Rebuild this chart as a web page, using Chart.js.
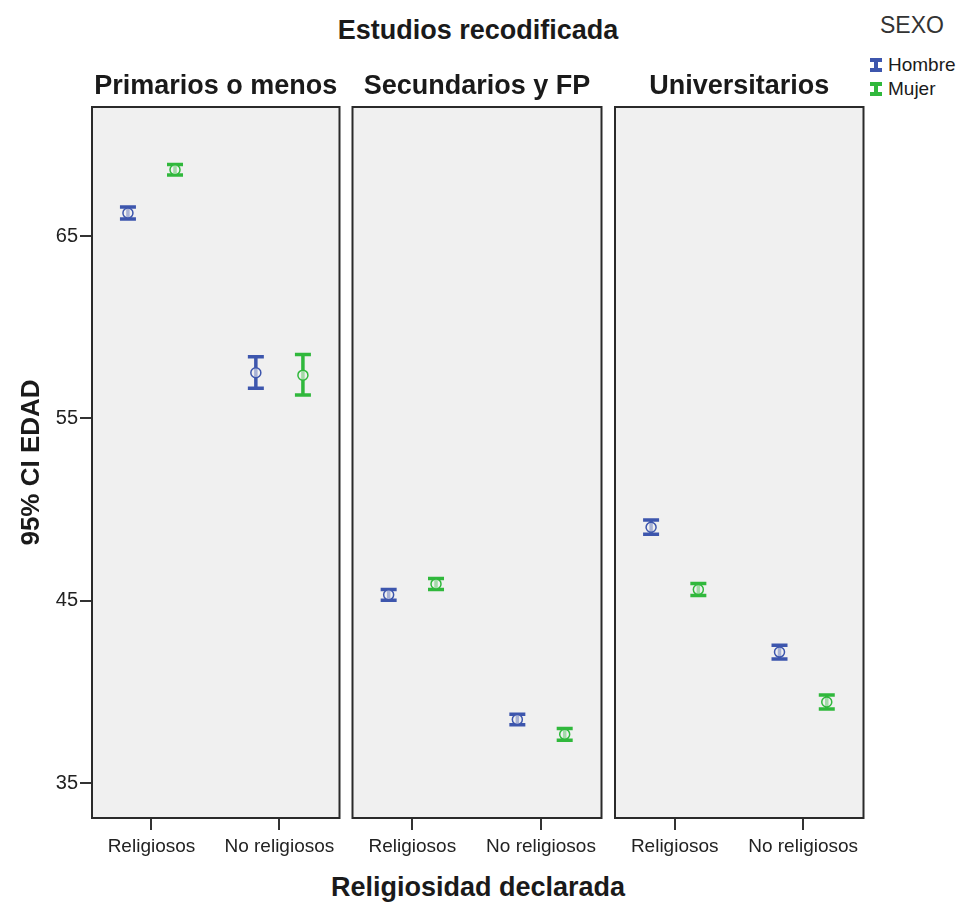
<!DOCTYPE html>
<html>
<head>
<meta charset="utf-8">
<script src="https://cdn.jsdelivr.net/npm/chart.js@4"></script>
<style>
  body { margin: 0; background: #fff; width: 961px; height: 902px; position: relative; overflow: hidden;
         font-family: Arial, "Liberation Sans", sans-serif; color: #1a1a1a; }
  canvas { position: absolute; top: 60px; }
  .titulo { position: absolute; left: 92px; width: 772px; text-align: center; font-weight: bold; font-size: 27px; line-height: 30px; }
  #leyenda { position: absolute; left: 866px; top: 10px; font-size: 19px; }
  #leyenda .cab { font-size: 23px; margin-left: 14px; line-height: 30px; color: #333; }
  #leyenda .fila { height: 24px; line-height: 24px; display: flex; align-items: center; }
  .icono { width: 12px; height: 14px; margin: 0 6px 0 4px; position: relative; box-sizing: border-box;
           border-top: 4px solid currentColor; border-bottom: 4px solid currentColor; }
  .icono::before { content: ''; position: absolute; left: 4px; top: 0; width: 4px; height: 6px; background: currentColor; }
</style>
</head>
<body>
<div class="titulo" style="top:15px">Estudios recodificada</div>
<div class="titulo" style="top:872px">Religiosidad declarada</div>
<div id="leyenda">
  <div class="cab">SEXO</div>
  <div class="fila" style="margin-top:13px"><span class="icono" style="color:rgb(61,86,173)"></span>Hombre</div>
  <div class="fila"><span class="icono" style="color:rgb(48,184,60)"></span>Mujer</div>
</div>
<canvas id="panel0" width="346" height="800" style="left:0px"></canvas>
<canvas id="panel1" width="262" height="800" style="left:346px"></canvas>
<canvas id="panel2" width="262" height="800" style="left:608px"></canvas>
<script>
const FUENTE = 'Arial, "Liberation Sans", sans-serif';
const AZUL = 'rgb(61,86,173)';
const VERDE = 'rgb(48,184,60)';

const estudios = ['Primarios o menos', 'Secundarios y FP', 'Universitarios'];
const religiosidad = ['Religiosos', 'No religiosos'];
const ticksEdad = [35, 45, 55, 65];

// media e IC 95% de EDAD: fila = estudios, columna = religiosidad
const hombreMedia = [[66.26, 57.5], [45.32, 38.48], [49.03, 42.18]];
const hombreInf   = [[65.93, 56.65], [45.03, 38.19], [48.64, 41.8]];
const hombreSup   = [[66.59, 58.38], [45.61, 38.77], [49.42, 42.56]];
const mujerMedia  = [[68.64, 57.37], [45.92, 37.67], [45.61, 39.44]];
const mujerInf    = [[68.35, 56.28], [45.62, 37.35], [45.28, 39.06]];
const mujerSup    = [[68.93, 58.51], [46.22, 37.99], [45.94, 39.82]];

const DESPL = 0.184; // separacion hombre / mujer dentro de cada categoria

const sexos = [
  { nombre: 'Hombre', color: AZUL, media: hombreMedia, inf: hombreInf, sup: hombreSup, dx: -DESPL },
  { nombre: 'Mujer', color: VERDE, media: mujerMedia, inf: mujerInf, sup: mujerSup, dx: DESPL }
];

// fondo gris, marco y titulo de cada panel (centrado sobre el area del grafico)
const marcoPanel = {
  id: 'marcoPanel',
  beforeDraw(chart) {
    const { ctx, chartArea: a } = chart;
    ctx.save();
    ctx.fillStyle = '#f0f0f0';
    ctx.fillRect(a.left, a.top, a.right - a.left, a.bottom - a.top);
    ctx.restore();
  },
  afterDraw(chart, args, opts) {
    const { ctx, chartArea: a } = chart;
    ctx.save();
    ctx.strokeStyle = '#2a2a2a';
    ctx.lineWidth = 2;
    ctx.strokeRect(a.left, a.top, a.right - a.left, a.bottom - a.top);
    ctx.fillStyle = '#1a1a1a';
    ctx.font = 'bold 27px ' + FUENTE;
    ctx.textAlign = 'center';
    ctx.textBaseline = 'middle';
    ctx.fillText(opts.texto, (a.left + a.right) / 2, a.top - 20);
    ctx.restore();
  }
};

// barras de IC con sus topes
const barrasError = {
  id: 'barrasError',
  beforeDatasetsDraw(chart, args, opts) {
    const p = opts.panel;
    const { ctx, scales: { x, y } } = chart;
    ctx.save();
    ctx.lineWidth = 3.5;
    sexos.forEach(s => {
      ctx.strokeStyle = s.color;
      religiosidad.forEach((_, j) => {
        const px = x.getPixelForValue(j + s.dx);
        const y1 = y.getPixelForValue(s.inf[p][j]);
        const y2 = y.getPixelForValue(s.sup[p][j]);
        ctx.beginPath();
        ctx.moveTo(px, y1); ctx.lineTo(px, y2);
        ctx.moveTo(px - 8, y1); ctx.lineTo(px + 8, y1);
        ctx.moveTo(px - 8, y2); ctx.lineTo(px + 8, y2);
        ctx.stroke();
      });
    });
    ctx.restore();
  }
};

function crearPanel(p) {
  const primero = p === 0;
  new Chart(document.getElementById('panel' + p), {
    type: 'scatter',
    data: {
      datasets: sexos.map(s => ({
        label: s.nombre,
        data: religiosidad.map((_, j) => ({ x: j + s.dx, y: s.media[p][j] })),
        pointStyle: 'circle',
        pointRadius: 5,
        pointBorderWidth: 1.5,
        borderColor: s.color,
        backgroundColor: 'rgba(240,240,240,0.6)'
      }))
    },
    options: {
      responsive: false,
      animation: false,
      layout: { padding: { left: primero ? 0 : (p === 1 ? 6 : 7), right: 2, top: 47, bottom: 0 } },
      scales: {
        x: {
          type: 'linear',
          min: -0.465,
          max: 1.47,
          afterBuildTicks: sc => { sc.ticks = religiosidad.map((_, j) => ({ value: j })); },
          afterFit: sc => { sc.height = 42; },
          ticks: {
            callback: v => religiosidad[v],
            font: { family: FUENTE, size: 19 },
            color: '#222',
            padding: 5,
            maxRotation: 0
          },
          grid: { drawOnChartArea: false, drawTicks: true, tickLength: 12, color: '#333', lineWidth: 2 },
          border: { display: false }
        },
        y: {
          display: primero,
          min: 33.08,
          max: 72.08,
          afterBuildTicks: sc => { sc.ticks = ticksEdad.map(v => ({ value: v })); },
          afterFit: sc => { if (primero) sc.width = 92; },
          ticks: { font: { family: FUENTE, size: 20 }, color: '#222', padding: 2 },
          grid: { drawOnChartArea: false, drawTicks: true, tickLength: 12, color: '#333', lineWidth: 2 },
          border: { display: false },
          title: {
            display: true,
            text: '95% CI EDAD',
            font: { family: FUENTE, size: 26, weight: 'bold' },
            color: '#1a1a1a',
            padding: { top: 16, bottom: 0 }
          }
        }
      },
      plugins: {
        legend: { display: false },
        tooltip: { enabled: false },
        title: { display: false },
        marcoPanel: { texto: estudios[p] },
        barrasError: { panel: p }
      }
    },
    plugins: [marcoPanel, barrasError]
  });
}

estudios.forEach((_, p) => crearPanel(p));
</script>
</body>
</html>
